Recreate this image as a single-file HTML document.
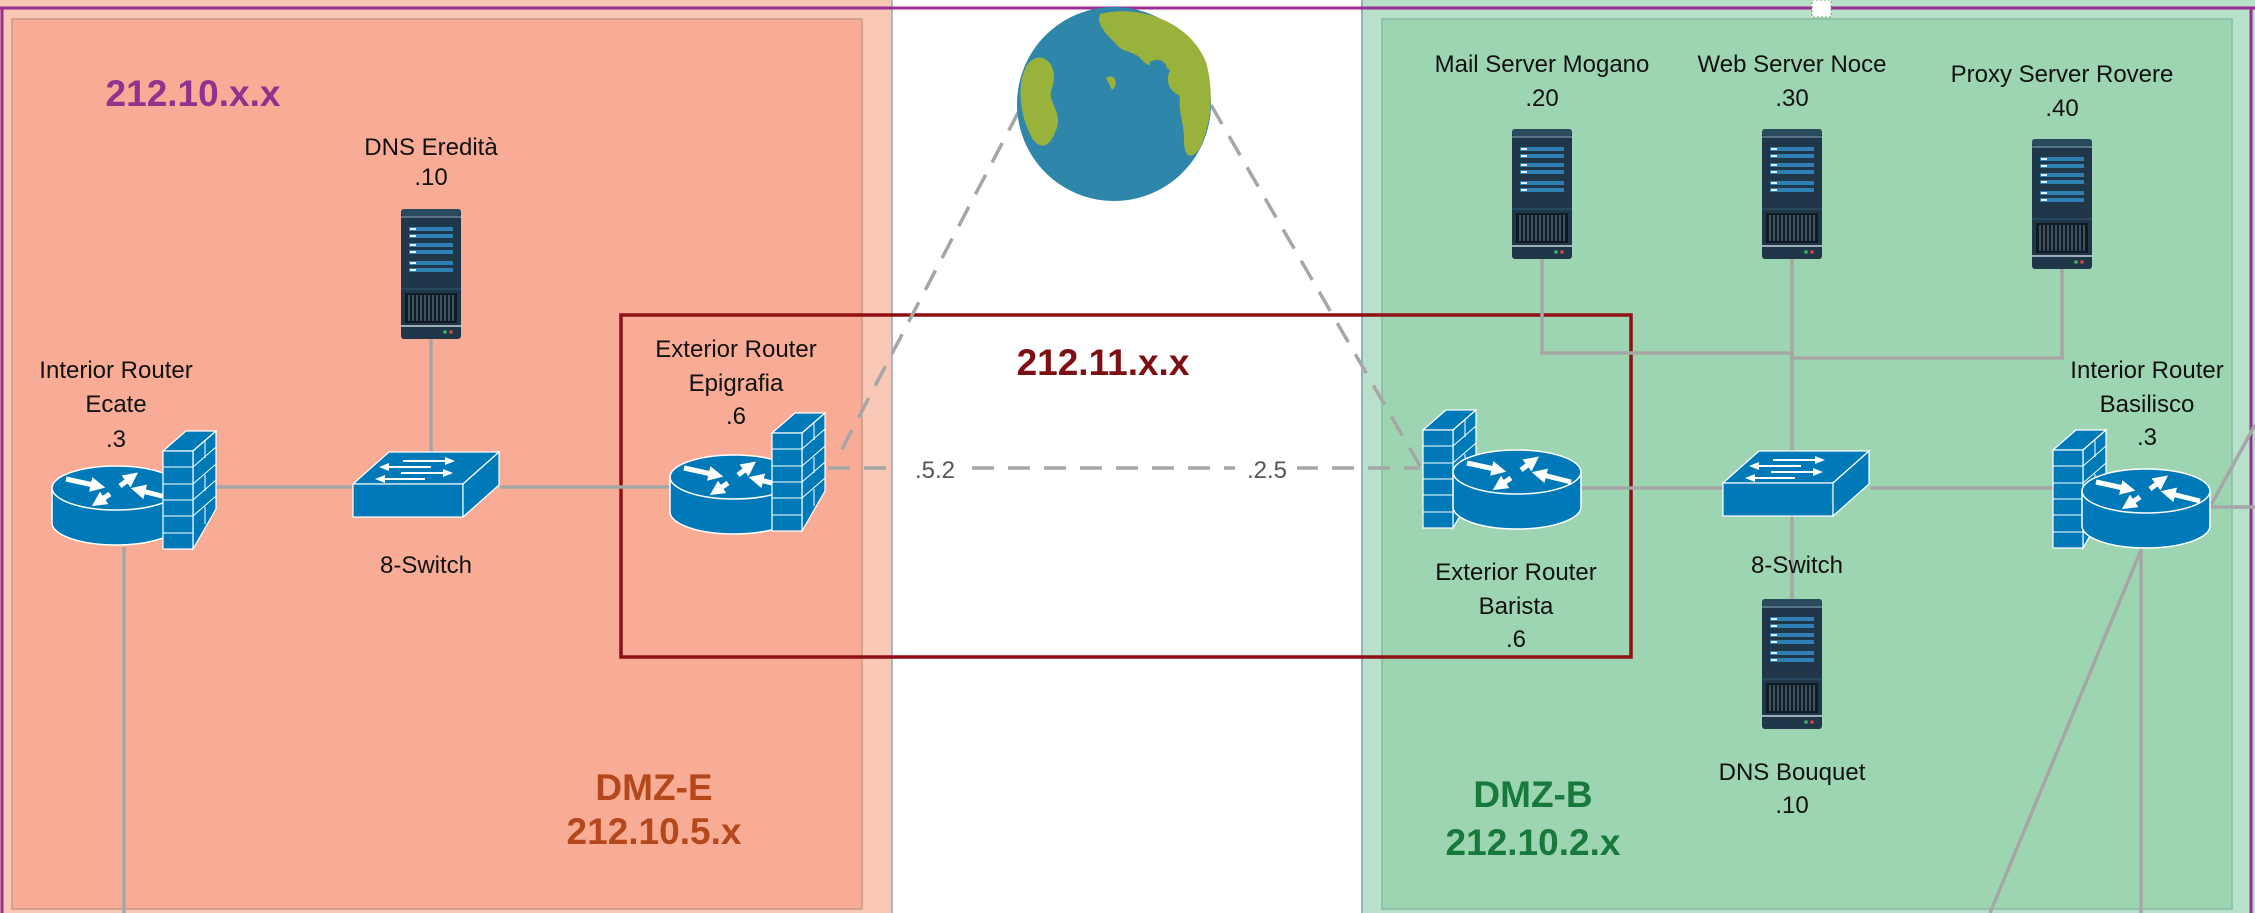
<!DOCTYPE html>
<html><head><meta charset="utf-8"><style>
html,body{margin:0;padding:0;background:#fff;}
svg{display:block;}
text{font-family:"Liberation Sans",sans-serif;}
</style></head><body>
<svg width="2255" height="913" viewBox="0 0 2255 913" xmlns="http://www.w3.org/2000/svg">
<defs>
<marker id="ah" viewBox="0 0 10 10" refX="5" refY="5" markerWidth="3" markerHeight="3" orient="auto" markerUnits="strokeWidth">
  <path d="M0,0 L10,5 L0,10 z" fill="#fff"/>
</marker>
<g id="srv">
  <rect x="0" y="0" width="60" height="130" rx="3" fill="#1f3748"/>
  <rect x="0" y="0" width="60" height="7" rx="3" fill="#2a4a5e"/>
  <line x1="0" y1="8" x2="60" y2="8" stroke="#8fb0c4" stroke-width="1"/>
  <g fill="#2d7fb4">
    <rect x="8" y="18" width="44" height="4"/><rect x="8" y="25" width="44" height="4"/>
    <rect x="8" y="34" width="44" height="4"/><rect x="8" y="41" width="44" height="4"/>
    <rect x="8" y="52" width="44" height="4"/><rect x="8" y="59" width="44" height="4"/>
  </g>
  <g fill="#e8f2f8">
    <rect x="9" y="19" width="6" height="2"/><rect x="9" y="26" width="6" height="2"/>
    <rect x="9" y="35" width="6" height="2"/><rect x="9" y="42" width="6" height="2"/>
    <rect x="9" y="53" width="6" height="2"/><rect x="9" y="60" width="6" height="2"/>
  </g>
  <line x1="0" y1="80" x2="60" y2="80" stroke="#2d5a74" stroke-width="1"/>
  <rect x="4" y="84" width="52" height="30" fill="#0e1b25"/>
  <g stroke="#6f8797" stroke-width="1">
    <line x1="8" y1="86" x2="8" y2="112"/><line x1="12" y1="86" x2="12" y2="112"/><line x1="16" y1="86" x2="16" y2="112"/>
    <line x1="20" y1="86" x2="20" y2="112"/><line x1="24" y1="86" x2="24" y2="112"/><line x1="28" y1="86" x2="28" y2="112"/>
    <line x1="32" y1="86" x2="32" y2="112"/><line x1="36" y1="86" x2="36" y2="112"/><line x1="40" y1="86" x2="40" y2="112"/>
    <line x1="44" y1="86" x2="44" y2="112"/><line x1="48" y1="86" x2="48" y2="112"/><line x1="52" y1="86" x2="52" y2="112"/>
  </g>
  <line x1="0" y1="117" x2="60" y2="117" stroke="#c9d6de" stroke-width="1.5"/>
  <circle cx="44" cy="123" r="1.8" fill="#3bb36b"/><circle cx="50" cy="123" r="1.8" fill="#e0443c"/>
</g>
<g id="rtr">
  <path d="M0,22 v35 a64,22 0 0 0 128,0 v-35 z" fill="#0079b8" stroke="#fff" stroke-width="1.5"/>
  <ellipse cx="64" cy="22" rx="64" ry="22" fill="#0079b8" stroke="#fff" stroke-width="1.5"/>
  <g stroke="#fff" stroke-width="5" marker-end="url(#ah)">
    <line x1="14" y1="13" x2="46" y2="20"/>
    <line x1="68" y1="20" x2="80" y2="11"/>
    <line x1="118" y1="32" x2="86" y2="24"/>
    <line x1="58" y1="28" x2="46" y2="36"/>
  </g>
</g>
<g id="fw">
  <polygon points="0,20 23,0 53,0 30,20" fill="#0079b8" stroke="#fff" stroke-width="1.2"/>
  <polygon points="30,20 53,0 53,78 30,118" fill="#0079b8" stroke="#fff" stroke-width="1.2"/>
  <rect x="0" y="20" width="30" height="98" fill="#0079b8" stroke="#fff" stroke-width="1.2"/>
  <g stroke="#fff" stroke-width="1">
    <line x1="0" y1="36" x2="30" y2="36"/><line x1="0" y1="53" x2="30" y2="53"/><line x1="0" y1="69" x2="30" y2="69"/>
    <line x1="0" y1="85" x2="30" y2="85"/><line x1="0" y1="102" x2="30" y2="102"/>
    <line x1="30" y1="36" x2="53" y2="16"/><line x1="30" y1="53" x2="53" y2="33"/><line x1="30" y1="69" x2="53" y2="49"/>
    <line x1="30" y1="85" x2="53" y2="65"/><line x1="42" y1="10" x2="42" y2="27"/><line x1="42" y1="44" x2="42" y2="60"/><line x1="42" y1="76" x2="42" y2="93"/>
  </g>
</g>
<g id="sw">
  <polygon points="0,32 36,0 146,0 110,32" fill="#0079b8" stroke="#fff" stroke-width="1.2"/>
  <rect x="0" y="32" width="110" height="33" fill="#0079b8" stroke="#fff" stroke-width="1.2"/>
  <polygon points="110,32 146,0 146,33 110,65" fill="#0079b8" stroke="#fff" stroke-width="1.2"/>
  <g fill="#fff">
    <polygon points="50,8 92,8 92,5 102,9 92,13 92,10 50,10"/>
    <polygon points="36,16 78,16 78,14 36,14 36,11 26,15 36,19"/>
    <polygon points="48,20 90,20 90,17 100,21 90,25 90,22 48,22"/>
    <polygon points="32,28 72,28 72,26 32,26 32,23 22,27 32,31"/>
  </g>
</g>
</defs>

<rect x="0" y="0" width="892" height="913" fill="#f9c7b5"/>
<rect x="12" y="19" width="850" height="890" fill="#f8ac95" stroke="#c99a8a" stroke-width="1.5"/>
<line x1="892" y1="0" x2="892" y2="913" stroke="#9fbcc4" stroke-width="2"/>
<rect x="1362" y="0" width="893" height="913" fill="#b8e1cb"/>
<line x1="1362" y1="0" x2="1362" y2="913" stroke="#8fb6bb" stroke-width="2"/>
<rect x="1382" y="19" width="850" height="890" fill="#9dd5b2" stroke="#86b9a6" stroke-width="1.5"/>

<line x1="0" y1="8" x2="2255" y2="8" stroke="#9a2f93" stroke-width="3"/>
<line x1="2" y1="8" x2="2" y2="913" stroke="#9a2f93" stroke-width="3"/>
<line x1="2251" y1="8" x2="2251" y2="913" stroke="#9a2f93" stroke-width="3"/>
<rect x="1812" y="0" width="19" height="17" fill="#fff" stroke="#6aa84f" stroke-width="1" stroke-dasharray="2,2"/>

<rect x="621" y="315" width="1010" height="342" fill="none" stroke="#8f0f15" stroke-width="3.5"/>

<g stroke="#a6a6a6" stroke-width="3.5" fill="none">
  <line x1="173" y1="487" x2="352" y2="487"/>
  <line x1="500" y1="487" x2="672" y2="487"/>
  <line x1="431" y1="338" x2="431" y2="455"/>
  <line x1="124" y1="547" x2="124" y2="913"/>
  <polyline points="1542,259 1542,353 1792,353"/>
  <polyline points="2062,269 2062,358 1792,358"/>
  <line x1="1792" y1="259" x2="1792" y2="452"/>
  <line x1="1792" y1="516" x2="1792" y2="599"/>
  <line x1="1581" y1="488" x2="1724" y2="488"/>
  <line x1="1870" y1="488" x2="2054" y2="488"/>
  <line x1="2141" y1="548" x2="2141" y2="913"/>
  <line x1="2141" y1="550" x2="1990" y2="913"/>
  <line x1="2211" y1="505" x2="2255" y2="425"/>
  <line x1="2211" y1="507" x2="2255" y2="507"/>
</g>
<g stroke="#a6a6a6" stroke-width="3.5" fill="none" stroke-dasharray="22,14">
  <line x1="828" y1="468" x2="1420" y2="468"/>
  <line x1="1019" y1="111" x2="841" y2="451"/>
  <line x1="1211" y1="105" x2="1420" y2="466"/>
</g>
<rect x="900" y="455" width="60" height="26" fill="#fff"/>
<rect x="1235" y="455" width="62" height="26" fill="#fff"/>
<text x="935" y="478" font-size="24" fill="#555" text-anchor="middle">.5.2</text>
<text x="1267" y="478" font-size="24" fill="#555" text-anchor="middle">.2.5</text>

<g>
  <circle cx="1114" cy="104" r="97" fill="#2f86ab"/>
  <path d="M1036,58 C1050,55 1058,72 1052,88 C1046,102 1064,112 1056,130 C1050,148 1040,150 1032,138 C1022,120 1018,96 1022,78 C1025,66 1030,60 1036,58 Z" fill="#98b23c"/>
  <path d="M1100,14 C1140,4 1190,22 1206,62 C1214,90 1212,122 1200,148 C1192,160 1184,158 1184,140 C1184,122 1178,112 1180,96 C1172,92 1164,84 1170,70 C1160,64 1150,70 1142,60 C1134,50 1124,54 1116,44 C1106,34 1096,24 1100,14 Z" fill="#98b23c"/>
  <path d="M1150,62 C1160,56 1170,64 1166,74 C1158,80 1148,72 1150,62 Z" fill="#2f86ab"/>
  <path d="M1106,78 C1114,72 1120,84 1112,90 Z" fill="#98b23c"/>
</g>

<use href="#srv" x="401" y="209"/>
<use href="#rtr" x="52" y="466"/>
<use href="#fw" x="163" y="431"/>
<use href="#sw" x="353" y="452"/>
<use href="#rtr" x="670" y="455"/>
<use href="#fw" x="772" y="413"/>

<use href="#srv" x="1512" y="129"/>
<use href="#srv" x="1762" y="129"/>
<use href="#srv" x="2032" y="139"/>
<use href="#srv" x="1762" y="599"/>
<use href="#sw" x="1723" y="451"/>
<use href="#fw" x="1423" y="410"/>
<use href="#rtr" x="1453" y="450"/>
<use href="#fw" x="2053" y="430"/>
<use href="#rtr" x="2082" y="469"/>

<g font-size="24" fill="#111" text-anchor="middle">
  <text x="431" y="155">DNS Eredità</text>
  <text x="431" y="185">.10</text>
  <text x="116" y="378">Interior Router</text>
  <text x="116" y="412">Ecate</text>
  <text x="116" y="447">.3</text>
  <text x="426" y="573">8-Switch</text>
  <text x="736" y="357">Exterior Router</text>
  <text x="736" y="391">Epigrafia</text>
  <text x="736" y="424">.6</text>
  <text x="1542" y="72">Mail Server Mogano</text>
  <text x="1542" y="106">.20</text>
  <text x="1792" y="72">Web Server Noce</text>
  <text x="1792" y="106">.30</text>
  <text x="2062" y="82">Proxy Server  Rovere</text>
  <text x="2062" y="116">.40</text>
  <text x="1516" y="580">Exterior Router</text>
  <text x="1516" y="614">Barista</text>
  <text x="1516" y="647">.6</text>
  <text x="1797" y="573">8-Switch</text>
  <text x="1792" y="780">DNS  Bouquet</text>
  <text x="1792" y="813">.10</text>
  <text x="2147" y="378">Interior Router</text>
  <text x="2147" y="412">Basilisco</text>
  <text x="2147" y="445">.3</text>
</g>
<g font-size="37" font-weight="bold" text-anchor="middle">
  <text x="193" y="106" fill="#93318f">212.10.x.x</text>
  <text x="1103" y="375" fill="#7e0f13">212.11.x.x</text>
  <text x="654" y="800" fill="#b4471b">DMZ-E</text>
  <text x="654" y="844" fill="#b4471b">212.10.5.x</text>
  <text x="1533" y="807" fill="#17793c">DMZ-B</text>
  <text x="1533" y="855" fill="#17793c">212.10.2.x</text>
</g>
</svg>
</body></html>
